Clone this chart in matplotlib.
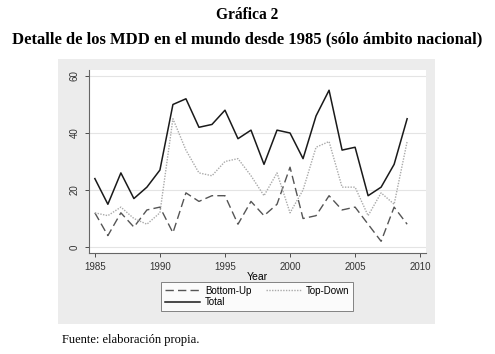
import matplotlib.pyplot as plt
from matplotlib.patches import Rectangle

years = list(range(1985, 2010))
bottom_up = [12, 4, 12, 7, 13, 14, 5, 19, 16, 18, 18, 8, 16, 11, 15, 28, 10, 11, 18, 13, 14, 8, 2, 14, 8]
top_down = [12, 11, 14, 10, 8, 12, 45, 34, 26, 25, 30, 31, 25, 18, 26, 12, 20, 35, 37, 21, 21, 11, 19, 15, 37]
total = [24, 15, 26, 17, 21, 27, 50, 52, 42, 43, 48, 38, 41, 29, 41, 40, 31, 46, 55, 34, 35, 18, 21, 29, 45]
xticks = [1985, 1990, 1995, 2000, 2005, 2010]
yticks = [0, 20, 40, 60]

W, H = 495, 354
fig = plt.figure(figsize=(W / 100, H / 100), dpi=100)

# stata-like gray graph region
fig.patches.append(Rectangle((58 / W, 1 - 324 / H), (435 - 58) / W, (324 - 59) / H,
                             transform=fig.transFigure, facecolor='#ececec',
                             edgecolor='none', zorder=0))

ax = fig.add_axes([89 / W, 1 - 253 / H, (426 - 89) / W, (253 - 70) / H])
ax.set_facecolor('white')
ax.set_zorder(1)

ax.plot(years, bottom_up, color='#555555', lw=1.0, ls=(0, (6, 3)), label='Bottom-Up')
ax.plot(years, total, color='#1a1a1a', lw=1.1, label='Total')
ax.plot(years, top_down, color='#aaaaaa', lw=1.0, ls=(0, (1, 1)), label='Top-Down')

ax.set_xlim(1984.55, 2010.45)
ax.set_ylim(-2.1, 62.1)
ax.set_xticks(xticks)
ax.set_yticks(yticks)
ax.set_yticklabels([str(v) for v in yticks], rotation=90, va='center')
ax.tick_params(labelsize=7, colors='#333333', length=3, width=0.6)
for lab in ax.get_xticklabels() + ax.get_yticklabels():
    lab.set_family('Liberation Sans')
ax.yaxis.grid(True, color='#e4e4e4', lw=0.8)
ax.set_axisbelow(True)
for s in ['top', 'right']:
    ax.spines[s].set_visible(False)
for s in ['left', 'bottom']:
    ax.spines[s].set_color('#666666')
    ax.spines[s].set_linewidth(0.8)
ax.set_xlabel('Year', fontsize=7.5, family='Liberation Sans', labelpad=0)

handles, labels = ax.get_legend_handles_labels()
leg = fig.legend(handles, labels, ncol=2, loc='center',
                 bbox_to_anchor=(257 / W, 1 - 296.5 / H),
                 prop={'family': 'Liberation Sans', 'size': 7},
                 handlelength=3.6, handletextpad=0.5, columnspacing=1.5,
                 labelspacing=0.2, borderpad=0.4, fancybox=False, frameon=True)
leg.get_frame().set_edgecolor('#666666')
leg.get_frame().set_linewidth(0.7)

fig.text(0.5, 1 - 15 / H, 'Gráfica 2', ha='center', va='center',
         family='Liberation Serif', weight='bold', fontsize=11.2)
fig.text(0.5, 1 - 39 / H, 'Detalle de los MDD en el mundo desde 1985 (sólo ámbito nacional)',
         ha='center', va='center', family='Liberation Serif', weight='bold', fontsize=12)
fig.text(62 / W, 1 - 340 / H, 'Fuente: elaboración propia.', ha='left', va='center',
         family='Liberation Serif', fontsize=9)

fig.savefig('out.png', dpi=100)
